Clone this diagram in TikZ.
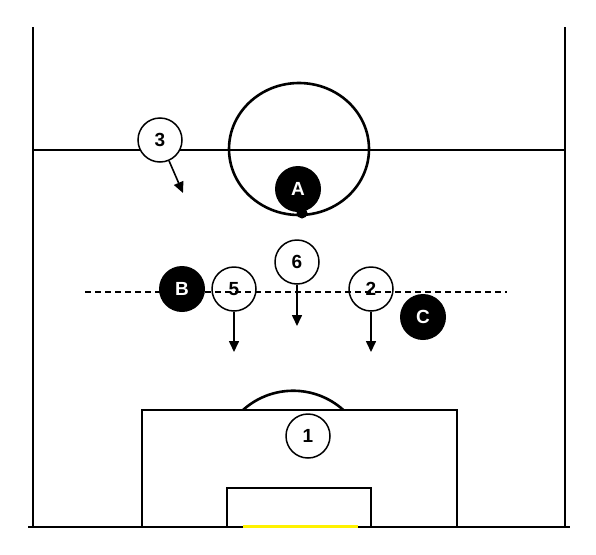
\documentclass[tikz,border=0pt]{standalone}
\usepackage{fontspec}
\setmainfont{Liberation Sans}
\usetikzlibrary{arrows.meta}

\begin{document}
\begin{tikzpicture}[x=1pt,y=-1pt,>={Triangle[width=10pt,length=11pt]},line width=2.6pt,
                    player/.style={circle,draw,line width=1.5pt,
                      minimum size=44pt,inner sep=0pt,font=\bfseries\fontsize{19}{22}\selectfont},
                    opp/.style={circle,fill=black,text=white,minimum size=46pt,
                      inner sep=0pt,font=\bfseries\fontsize{19}{22}\selectfont},
                    run/.style={->,line width=1.6pt}]

  \useasboundingbox (0,0) rectangle (596,554);

  % pitch
  \draw (33,27) -- (33,527) (565,27) -- (565,527);
  \draw (33,150) -- (565,150);
  \draw (28,527) -- (570,527);
  \draw (299,149) circle [x radius=70, y radius=66];
  \draw (243,410) arc [start angle=-132, end angle=-48, radius=75];
  \draw (142,527) -- (142,410) -- (457,410) -- (457,527);
  \draw (227,527) -- (227,488) -- (371,488) -- (371,527);
  \draw[yellow,line width=3pt] (243,526) -- (358,526);

  % players
  \node[player,fill=white] (P3) at (160,140) {3};
  \node[player] (P5) at (234,289) {5};
  \node[player,fill=white] (P6) at (297,262) {6};
  \node[player] (P2) at (371,289) {2};
  \node[player,fill=white] (P1) at (308,436) {1};
  \draw[dashed,line width=1.2pt,dash pattern=on 6pt off 4pt] (85,292) -- (507,292);
  \node[opp]    (A)  at (298,189) {A};
  \node[opp]    (B)  at (182,289) {B};
  \node[opp]    (C)  at (423,317) {C};
  \node[circle,fill=black,inner sep=0pt,minimum size=11pt] (ball) at (302,213) {};

  % runs
  \coordinate (t3) at (183,193);
  \coordinate (t5) at (234,352);
  \coordinate (t6) at (297,326);
  \coordinate (t2) at (371,352);
  \draw[run] (P3) -- (t3);
  \draw[run] (P5) -- (t5);
  \draw[run] (P6) -- (t6);
  \draw[run] (P2) -- (t2);
\end{tikzpicture}
\end{document}
